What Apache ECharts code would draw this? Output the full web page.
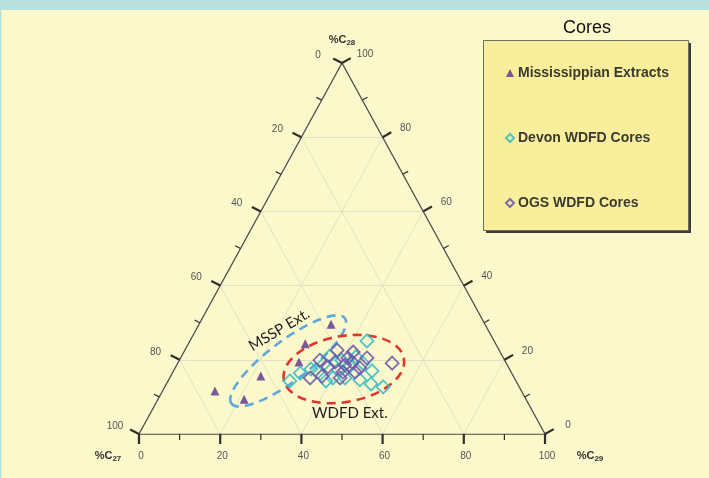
<!DOCTYPE html>
<html>
<head>
<meta charset="utf-8">
<script src="https://cdn.jsdelivr.net/npm/echarts@6/dist/echarts.min.js"></script>
<style>
  html, body { margin: 0; padding: 0; width: 709px; height: 478px; overflow: hidden; background: #fbf8cc; }
  #chart { position: absolute; left: 0; top: 0; width: 709px; height: 478px; }
</style>
</head>
<body>
<div id="chart"></div>
<script>
// Sterane compositions, each row is [%C27, %C28, %C29]
const mississippianExtracts = [
  [37.9, 29.6, 32.5],
  [46.9, 24.3, 28.8],
  [50.9, 19.4, 29.7],
  [62.2, 15.6, 22.2],
  [69.4, 9.4, 21.2],
  [75.5, 11.6, 12.9]
];
const devonCores = [
  [31.3, 25.1, 43.6], [55.7, 14.3, 30.0], [52.1, 16.4, 31.5], [48.9, 17.5, 33.6],
  [45.0, 18.9, 36.1], [44.7, 15.1, 40.2], [41.7, 15.1, 43.2], [38.3, 14.6, 47.1],
  [36.1, 13.5, 50.4], [33.5, 12.7, 53.8], [34.1, 17.0, 48.9], [38.9, 18.3, 42.8],
  [40.1, 19.9, 40.0], [36.2, 20.8, 43.0], [42.5, 21.0, 36.5], [47.6, 16.7, 35.7],
  [35.3, 19.1, 45.6], [42.3, 17.3, 40.4], [46.8, 14.3, 38.9]
];
const ogsCores = [
  [28.1, 19.1, 52.8], [45.5, 19.9, 34.6], [39.9, 22.6, 37.5], [36.2, 22.1, 41.7],
  [33.6, 20.5, 45.9], [44.4, 18.1, 37.5], [40.0, 18.6, 41.4], [38.4, 16.7, 44.9],
  [42.9, 15.1, 42.0], [50.3, 15.1, 34.6], [38.3, 20.5, 41.2], [36.7, 17.8, 45.5],
  [42.0, 19.4, 38.6], [47.1, 15.6, 37.3], [41.4, 16.7, 41.9], [37.8, 19.4, 42.8]
];
const seriesNames = ['Mississippian Extracts', 'Devon WDFD Cores', 'OGS WDFD Cores'];
const gridValues = [20, 40, 60, 80];
const tickValues = [0, 10, 20, 30, 40, 50, 60, 70, 80, 90, 100];
const tickLabels = ['0', '20', '40', '60', '80', '100'];
// Outlined fields: name and centre as [%C27, %C28, %C29]
const fieldNames = ['MSSP Ext.', 'WDFD Ext.'];
const fieldCentres = [[53.4, 19.7, 26.9], [40.8, 17.5, 41.7]];

// Ternary -> plane: x = C29 + C28/2, y = C28
function toXY(row) {
  const s = row[0] + row[1] + row[2];
  const c28 = row[1] / s * 100, c29 = row[2] / s * 100;
  return [c29 + c28 / 2, c28];
}

// Grid lines of constant C28, C29 and C27
const gridLines = [];
gridValues.forEach(k => {
  gridLines.push({ coords: [toXY([100 - k, k, 0]), toXY([0, k, 100 - k])] });
  gridLines.push({ coords: [toXY([100 - k, 0, k]), toXY([0, 100 - k, k])] });
  gridLines.push({ coords: [toXY([k, 0, 100 - k]), toXY([k, 100 - k, 0])] });
});
const frameLines = [
  { coords: [toXY([100, 0, 0]), toXY([0, 0, 100])] },
  { coords: [toXY([0, 0, 100]), toXY([0, 100, 0])] },
  { coords: [toXY([0, 100, 0]), toXY([100, 0, 0])] }
];

// Tick directions in pixels: bottom (C29), left (C27), right (C28)
const TICK_DIRS = [[0, 1], [-0.89, -0.45], [0.87, -0.49]];
const LABEL_OFFSETS = [[2, 22], [-24, -8], [23, -9]];
const ticks = [];
tickValues.forEach(v => {
  const major = v % 20 === 0 ? 1 : 0;
  ticks.push([...toXY([100 - v, 0, v]), 0, major]);
  ticks.push([...toXY([v, 100 - v, 0]), 1, major]);
  ticks.push([...toXY([0, v, 100 - v]), 2, major]);
});
const labelItems = [];
const labelTexts = [];
tickLabels.forEach(t => {
  const v = +t;
  labelItems.push([...toXY([100 - v, 0, v]), 0]); labelTexts.push(t);
  labelItems.push([...toXY([v, 100 - v, 0]), 1]); labelTexts.push(t);
  labelItems.push([...toXY([0, v, 100 - v]), 2]); labelTexts.push(t);
});
const vertexTitles = [
  { at: toXY([100, 0, 0]), dx: -31, dy: 22, sub: '27' },
  { at: toXY([0, 100, 0]), dx: 0, dy: -23, sub: '28' },
  { at: toXY([0, 0, 100]), dx: 45, dy: 22, sub: '29' }
];

const FONT = '"Liberation Sans", Arial, sans-serif';

const chart = echarts.init(document.getElementById('chart'), null, { renderer: 'canvas' });
chart.setOption({
  backgroundColor: '#fbf8cc',
  animation: false,
  grid: { left: 139, right: 164, top: 63, bottom: 44 },
  xAxis: { type: 'value', min: 0, max: 100, show: false },
  yAxis: { type: 'value', min: 0, max: 100, show: false },
  legend: {
    orient: 'vertical', left: 505, top: 65, itemGap: 49, padding: 0,
    itemWidth: 8, itemHeight: 8, selectedMode: false,
    data: seriesNames,
    textStyle: { fontFamily: FONT, fontSize: 14, fontWeight: 'bold', color: '#3a3a30', lineHeight: 16, padding: [0, 0, 0, -1] }
  },
  graphic: [
    { type: 'rect', left: 0, top: 0, shape: { width: 709, height: 10 }, style: { fill: '#b9e2de' }, z: 0 },
    { type: 'rect', left: 0, top: 0, shape: { width: 1.5, height: 478 }, style: { fill: '#b9e2de' }, z: 0 },
    { type: 'rect', left: 486, top: 43, shape: { width: 205, height: 190 }, style: { fill: '#3a3a3a' }, z: 0 },
    {
      type: 'rect', left: 483, top: 40, shape: { width: 205, height: 190 },
      style: { fill: '#f8ee9c', stroke: '#6e6e5a', lineWidth: 1 },
      z: 0
    },
    { type: 'text', left: 563, top: 19, style: { text: 'Cores', fill: '#111', font: '18px ' + FONT }, z: 5 }
  ],
  series: [
    {
      type: 'lines', coordinateSystem: 'cartesian2d', silent: true, z: 1,
      lineStyle: { color: '#e4e0c8', width: 1, opacity: 1 },
      data: gridLines
    },
    {
      type: 'lines', coordinateSystem: 'cartesian2d', silent: true, z: 3,
      lineStyle: { color: '#4a4a4a', width: 1.3, opacity: 1 },
      data: frameLines
    },
    {
      type: 'custom', coordinateSystem: 'cartesian2d', silent: true, z: 3, clip: false,
      data: ticks,
      renderItem(params, api) {
        const p = api.coord([api.value(0), api.value(1)]);
        const d = TICK_DIRS[api.value(2)];
        const major = api.value(3) === 1;
        const len = major ? 10 : 6;
        return {
          type: 'line',
          shape: { x1: p[0], y1: p[1], x2: p[0] + d[0] * len, y2: p[1] + d[1] * len },
          style: { stroke: '#2e2e2e', lineWidth: major ? 2.2 : 1.2 }
        };
      }
    },
    {
      type: 'custom', coordinateSystem: 'cartesian2d', silent: true, z: 3, clip: false,
      data: labelItems,
      renderItem(params, api) {
        const p = api.coord([api.value(0), api.value(1)]);
        const o = LABEL_OFFSETS[api.value(2)];
        return {
          type: 'text', x: p[0] + o[0], y: p[1] + o[1],
          style: { text: labelTexts[params.dataIndex], fill: '#555', font: '10px ' + FONT, align: 'center', verticalAlign: 'middle' }
        };
      }
    },
    {
      type: 'custom', coordinateSystem: 'cartesian2d', silent: true, z: 3, clip: false,
      data: vertexTitles.map(v => v.at),
      renderItem(params, api) {
        const p = api.coord([api.value(0), api.value(1)]);
        const v = vertexTitles[params.dataIndex];
        return {
          type: 'text', x: p[0] + v.dx, y: p[1] + v.dy,
          style: {
            text: '{a|%C}{b|' + v.sub + '}', align: 'center', verticalAlign: 'middle',
            rich: {
              a: { font: 'bold 11px ' + FONT, fill: '#333', color: '#333' },
              b: { font: 'bold 8px ' + FONT, fill: '#333', color: '#333', verticalAlign: 'bottom', padding: [5, 0, 0, 0] }
            }
          }
        };
      }
    },
    {
      type: 'custom', coordinateSystem: 'cartesian2d', silent: true, z: 2, clip: false,
      data: fieldCentres.map(toXY),
      renderItem(params, api) {
        const p = api.coord([api.value(0), api.value(1)]);
        const isMssp = params.dataIndex === 0;
        const ellipse = isMssp
          ? { rx: 71, ry: 20, rot: 37, color: '#5fa8dc' }
          : { rx: 61, ry: 33, rot: 10, color: '#e0372c' };
        const label = isMssp ? { dx: -9, dy: -31, rot: 31 } : { dx: 6, dy: 44, rot: 0 };
        return {
          type: 'group',
          children: [
            {
              type: 'ellipse', x: p[0], y: p[1], rotation: ellipse.rot * Math.PI / 180,
              shape: { cx: 0, cy: 0, rx: ellipse.rx, ry: ellipse.ry },
              style: { fill: 'none', stroke: ellipse.color, lineWidth: 2.6, lineDash: [9, 6] }
            },
            {
              type: 'text', x: p[0] + label.dx, y: p[1] + label.dy, rotation: label.rot * Math.PI / 180,
              style: { text: fieldNames[params.dataIndex], fill: '#1e1e1e', font: '15px Lato, "Open Sans", sans-serif', align: 'center', verticalAlign: 'middle' }
            }
          ]
        };
      }
    },
    {
      name: seriesNames[0], type: 'scatter', z: 4,
      symbol: 'triangle', symbolSize: 9,
      itemStyle: { color: '#5b2f8e' },
      data: mississippianExtracts.map(toXY)
    },
    {
      name: seriesNames[1], type: 'scatter', z: 4,
      symbol: 'diamond', symbolSize: 13,
      itemStyle: { color: 'rgba(0,0,0,0)', borderColor: '#3fbcc6', borderWidth: 1.8, opacity: 0.9 },
      data: devonCores.map(toXY)
    },
    {
      name: seriesNames[2], type: 'scatter', z: 4,
      symbol: 'diamond', symbolSize: 13,
      itemStyle: { color: 'rgba(0,0,0,0)', borderColor: '#6a55a8', borderWidth: 1.8, opacity: 0.85 },
      data: ogsCores.map(toXY)
    }
  ]
});
</script>
</body>
</html>
